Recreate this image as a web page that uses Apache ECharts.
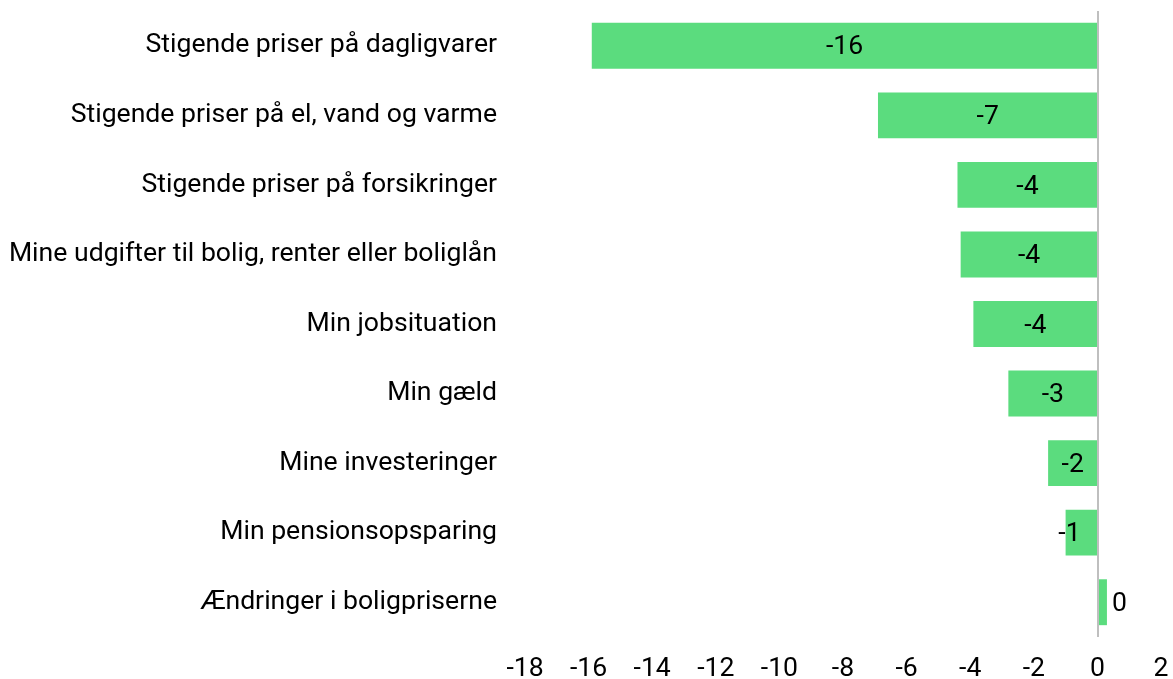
<!DOCTYPE html>
<html><head><meta charset="utf-8">
<script src="https://cdn.jsdelivr.net/npm/echarts@6/dist/echarts.min.js"></script>
<style>html,body{margin:0;padding:0;background:#fff}#c{width:1173px;height:679px}</style>
</head><body><div id="c"></div>
<script>
const categories = [
  "Stigende priser på dagligvarer",
  "Stigende priser på el, vand og varme",
  "Stigende priser på forsikringer",
  "Mine udgifter til bolig, renter eller boliglån",
  "Min jobsituation",
  "Min gæld",
  "Mine investeringer",
  "Min pensionsopsparing",
  "Ændringer i boligpriserne"
];
const values = [-15.9, -6.9, -4.4, -4.3, -3.9, -2.8, -1.55, -1.0, 0.3];
const xTicks = { min: -18, max: 2, interval: 2 };

const chart = echarts.init(document.getElementById('c'));
const data = values.map(function (v, i) {
  const d = { value: v };
  if (v >= 0) d.label = { position: 'right', distance: 5, offset: [0, 2] };
  else if (v > -1.3) d.label = { position: 'inside', offset: [-12, 2] };
  return d;
});
chart.setOption({
  animation: false,
  textStyle: { fontFamily: 'Roboto' },
  grid: { left: 525, right: 12, top: 11, bottom: 42, containLabel: false, outerBoundsMode: 'none' },
  xAxis: {
    type: 'value', min: xTicks.min, max: xTicks.max, interval: xTicks.interval,
    axisLine: { show: false }, axisTick: { show: false }, splitLine: { show: false },
    axisLabel: { color: '#000', fontSize: 26.6, fontFamily: 'Roboto', margin: 19 }
  },
  yAxis: {
    type: 'category', data: categories, inverse: true,
    axisLine: { show: false }, axisTick: { show: false },
    axisLabel: { color: '#000', fontSize: 26.6, fontFamily: 'Roboto', margin: 28, padding: [4, 0, 0, 0] }
  },
  series: [{
    type: 'bar', data: data, barWidth: '66%',
    itemStyle: { color: '#5BDC7E' },
    label: {
      show: true, position: 'inside', color: '#000', fontSize: 26.6, fontFamily: 'Roboto',
      offset: [0, 2],
      formatter: function (p) { return String(Math.round(p.value)); }
    },
    markLine: {
      silent: true, symbol: 'none', animation: false,
      label: { show: false },
      lineStyle: { color: '#BFBFBF', type: 'solid', width: 2 },
      data: [{ xAxis: 0 }]
    },
    z: 2
  }]
});
</script></body></html>
